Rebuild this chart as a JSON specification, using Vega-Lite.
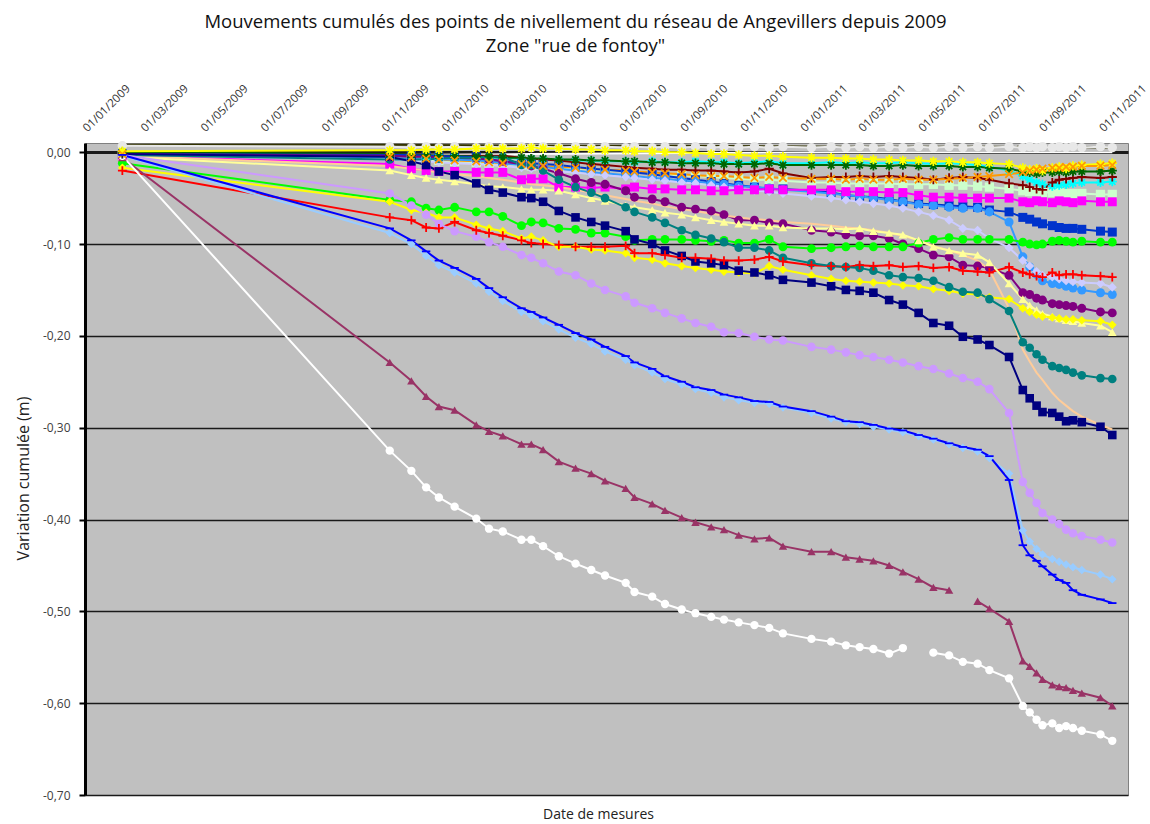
{
"$schema": "https://vega.github.io/schema/vega-lite/v6.json",
"width": 1043, "height": 652,
"autosize": {"type": "none"},
"padding": {"left": 85, "top": 143, "right": 22, "bottom": 29},
"background": "white",
"config": {
  "font": "Open Sans",
  "view": {"fill": "#C0C0C0", "stroke": "#808080", "strokeWidth": 1},
  "locale": {"number": {"decimal": ",", "thousands": " ", "grouping": [3], "currency": ["", " €"], "minus": "-"}}
},
"title": {"text": ["Mouvements cumulés des points de nivellement du réseau de Angevillers depuis 2009", "Zone \"rue de fontoy\""], "fontSize": 18.5, "fontWeight": "normal", "color": "#111111", "anchor": "middle", "frame": "group", "dx": -31, "offset": 27, "lineHeight": 24},
"data": {"values": [
{"d":"2009-02-08","s":"s25","v":0.008},{"d":"2009-11-07","s":"s25","v":0.008},{"d":"2010-03-31","s":"s25","v":0.007},{"d":"2010-08-31","s":"s25","v":0.007},{"d":"2011-02-14","s":"s25","v":0.006},{"d":"2011-07-10","s":"s25","v":0.006},{"d":"2011-11-12","s":"s25","v":0.005},
{"d":"2009-02-08","s":"s26","v":-0.002},{"d":"2009-11-07","s":"s26","v":-0.003},{"d":"2010-03-31","s":"s26","v":-0.002},{"d":"2010-08-31","s":"s26","v":-0.001},{"d":"2011-02-14","s":"s26","v":0.0},{"d":"2011-07-10","s":"s26","v":0.0},{"d":"2011-11-12","s":"s26","v":0.0},
{"d":"2009-02-08","s":"s24","v":0.007},{"d":"2009-11-07","s":"s24","v":0.006},{"d":"2009-11-29","s":"s24","v":0.005},{"d":"2009-12-14","s":"s24","v":0.006},{"d":"2009-12-27","s":"s24","v":0.005},{"d":"2010-01-12","s":"s24","v":0.006},{"d":"2010-02-03","s":"s24","v":0.005},{"d":"2010-02-16","s":"s24","v":0.006},{"d":"2010-03-02","s":"s24","v":0.005},{"d":"2010-03-21","s":"s24","v":0.006},{"d":"2010-03-31","s":"s24","v":0.005},{"d":"2010-04-12","s":"s24","v":0.006},{"d":"2010-04-28","s":"s24","v":0.005},{"d":"2010-05-15","s":"s24","v":0.006},{"d":"2010-05-31","s":"s24","v":0.005},{"d":"2010-06-14","s":"s24","v":0.006},{"d":"2010-07-05","s":"s24","v":0.005},{"d":"2010-07-14","s":"s24","v":0.006},{"d":"2010-08-01","s":"s24","v":0.005},{"d":"2010-08-14","s":"s24","v":0.006},{"d":"2010-08-31","s":"s24","v":0.005},{"d":"2010-09-14","s":"s24","v":0.006},{"d":"2010-09-30","s":"s24","v":0.005},{"d":"2010-10-13","s":"s24","v":0.006},{"d":"2010-10-28","s":"s24","v":0.005},{"d":"2010-11-13","s":"s24","v":0.006},{"d":"2010-11-28","s":"s24","v":0.005},{"d":"2010-12-12","s":"s24","v":0.006},{"d":"2011-01-10","s":"s24","v":0.005},{"d":"2011-01-30","s":"s24","v":0.006},{"d":"2011-02-14","s":"s24","v":0.005},{"d":"2011-02-28","s":"s24","v":0.006},{"d":"2011-03-14","s":"s24","v":0.005},{"d":"2011-03-30","s":"s24","v":0.006},{"d":"2011-04-13","s":"s24","v":0.005},{"d":"2011-04-29","s":"s24","v":0.006},{"d":"2011-05-14","s":"s24","v":0.005},{"d":"2011-05-30","s":"s24","v":0.006},{"d":"2011-06-13","s":"s24","v":0.005},{"d":"2011-06-28","s":"s24","v":0.006},{"d":"2011-07-10","s":"s24","v":0.005},{"d":"2011-07-30","s":"s24","v":0.006},{"d":"2011-08-13","s":"s24","v":0.005},{"d":"2011-08-20","s":"s24","v":0.006},{"d":"2011-08-27","s":"s24","v":0.005},{"d":"2011-09-02","s":"s24","v":0.006},{"d":"2011-09-12","s":"s24","v":0.005},{"d":"2011-09-19","s":"s24","v":0.006},{"d":"2011-09-26","s":"s24","v":0.005},{"d":"2011-10-03","s":"s24","v":0.006},{"d":"2011-10-12","s":"s24","v":0.005},{"d":"2011-10-31","s":"s24","v":0.006},{"d":"2011-11-12","s":"s24","v":0.005},
{"d":"2009-02-08","s":"s18","v":-0.002},{"d":"2009-11-07","s":"s18","v":-0.004},{"d":"2009-11-29","s":"s18","v":-0.004},{"d":"2009-12-14","s":"s18","v":-0.005},{"d":"2009-12-27","s":"s18","v":-0.005},{"d":"2010-01-12","s":"s18","v":-0.005},{"d":"2010-02-03","s":"s18","v":-0.006},{"d":"2010-02-16","s":"s18","v":-0.006},{"d":"2010-03-02","s":"s18","v":-0.006},{"d":"2010-03-21","s":"s18","v":-0.007},{"d":"2010-03-31","s":"s18","v":-0.007},{"d":"2010-04-12","s":"s18","v":-0.008},{"d":"2010-04-28","s":"s18","v":-0.008},{"d":"2010-05-15","s":"s18","v":-0.009},{"d":"2010-05-31","s":"s18","v":-0.009},{"d":"2010-06-14","s":"s18","v":-0.010},{"d":"2010-07-05","s":"s18","v":-0.010},{"d":"2010-07-14","s":"s18","v":-0.011},{"d":"2010-08-01","s":"s18","v":-0.010},{"d":"2010-08-14","s":"s18","v":-0.011},{"d":"2010-08-31","s":"s18","v":-0.011},{"d":"2010-09-14","s":"s18","v":-0.010},{"d":"2010-09-30","s":"s18","v":-0.011},{"d":"2010-10-13","s":"s18","v":-0.011},{"d":"2010-10-28","s":"s18","v":-0.012},{"d":"2010-11-13","s":"s18","v":-0.011},{"d":"2010-11-28","s":"s18","v":-0.010},{"d":"2010-12-12","s":"s18","v":-0.012},{"d":"2011-01-10","s":"s18","v":-0.012},{"d":"2011-01-30","s":"s18","v":-0.011},{"d":"2011-02-14","s":"s18","v":-0.012},{"d":"2011-02-28","s":"s18","v":-0.011},{"d":"2011-03-14","s":"s18","v":-0.012},{"d":"2011-03-30","s":"s18","v":-0.012},{"d":"2011-04-13","s":"s18","v":-0.011},{"d":"2011-04-29","s":"s18","v":-0.012},{"d":"2011-05-14","s":"s18","v":-0.013},{"d":"2011-05-30","s":"s18","v":-0.012},{"d":"2011-06-13","s":"s18","v":-0.013},{"d":"2011-06-28","s":"s18","v":-0.014},{"d":"2011-07-10","s":"s18","v":-0.016},{"d":"2011-07-30","s":"s18","v":-0.020},{"d":"2011-08-13","s":"s18","v":-0.026},{"d":"2011-08-20","s":"s18","v":-0.030},{"d":"2011-08-27","s":"s18","v":-0.033},{"d":"2011-09-02","s":"s18","v":-0.035},{"d":"2011-09-12","s":"s18","v":-0.037},{"d":"2011-09-19","s":"s18","v":-0.036},{"d":"2011-09-26","s":"s18","v":-0.035},{"d":"2011-10-03","s":"s18","v":-0.034},{"d":"2011-10-12","s":"s18","v":-0.033},{"d":"2011-10-31","s":"s18","v":-0.033},{"d":"2011-11-12","s":"s18","v":-0.032},
{"d":"2009-02-08","s":"s19","v":-0.002},{"d":"2009-11-07","s":"s19","v":-0.004},{"d":"2009-11-29","s":"s19","v":-0.004},{"d":"2009-12-14","s":"s19","v":-0.004},{"d":"2009-12-27","s":"s19","v":-0.004},{"d":"2010-01-12","s":"s19","v":-0.004},{"d":"2010-02-03","s":"s19","v":-0.004},{"d":"2010-02-16","s":"s19","v":-0.004},{"d":"2010-03-02","s":"s19","v":-0.004},{"d":"2010-03-21","s":"s19","v":-0.006},{"d":"2010-03-31","s":"s19","v":-0.007},{"d":"2010-04-12","s":"s19","v":-0.008},{"d":"2010-04-28","s":"s19","v":-0.009},{"d":"2010-05-15","s":"s19","v":-0.011},{"d":"2010-05-31","s":"s19","v":-0.013},{"d":"2010-06-14","s":"s19","v":-0.014},{"d":"2010-07-05","s":"s19","v":-0.016},{"d":"2010-07-14","s":"s19","v":-0.017},{"d":"2010-08-01","s":"s19","v":-0.018},{"d":"2010-08-14","s":"s19","v":-0.019},{"d":"2010-08-31","s":"s19","v":-0.019},{"d":"2010-09-14","s":"s19","v":-0.020},{"d":"2010-09-30","s":"s19","v":-0.020},{"d":"2010-10-13","s":"s19","v":-0.021},{"d":"2010-10-28","s":"s19","v":-0.022},{"d":"2010-11-13","s":"s19","v":-0.021},{"d":"2010-11-28","s":"s19","v":-0.018},{"d":"2010-12-12","s":"s19","v":-0.023},{"d":"2011-01-10","s":"s19","v":-0.028},{"d":"2011-01-30","s":"s19","v":-0.027},{"d":"2011-02-14","s":"s19","v":-0.027},{"d":"2011-02-28","s":"s19","v":-0.026},{"d":"2011-03-14","s":"s19","v":-0.027},{"d":"2011-03-30","s":"s19","v":-0.026},{"d":"2011-04-13","s":"s19","v":-0.027},{"d":"2011-04-29","s":"s19","v":-0.028},{"d":"2011-05-14","s":"s19","v":-0.030},{"d":"2011-05-30","s":"s19","v":-0.028},{"d":"2011-06-13","s":"s19","v":-0.027},{"d":"2011-06-28","s":"s19","v":-0.028},{"d":"2011-07-10","s":"s19","v":-0.030},{"d":"2011-07-30","s":"s19","v":-0.034},{"d":"2011-08-13","s":"s19","v":-0.036},{"d":"2011-08-20","s":"s19","v":-0.038},{"d":"2011-08-27","s":"s19","v":-0.040},{"d":"2011-09-02","s":"s19","v":-0.041},{"d":"2011-09-12","s":"s19","v":-0.033},{"d":"2011-09-19","s":"s19","v":-0.030},{"d":"2011-09-26","s":"s19","v":-0.029},{"d":"2011-10-03","s":"s19","v":-0.028},{"d":"2011-10-12","s":"s19","v":-0.027},{"d":"2011-10-31","s":"s19","v":-0.028},{"d":"2011-11-12","s":"s19","v":-0.027},
{"d":"2009-02-08","s":"s20","v":0.0},{"d":"2009-11-07","s":"s20","v":-0.002},{"d":"2009-11-29","s":"s20","v":-0.003},{"d":"2009-12-14","s":"s20","v":-0.003},{"d":"2009-12-27","s":"s20","v":-0.004},{"d":"2010-01-12","s":"s20","v":-0.004},{"d":"2010-02-03","s":"s20","v":-0.005},{"d":"2010-02-16","s":"s20","v":-0.005},{"d":"2010-03-02","s":"s20","v":-0.006},{"d":"2010-03-21","s":"s20","v":-0.006},{"d":"2010-03-31","s":"s20","v":-0.007},{"d":"2010-04-12","s":"s20","v":-0.007},{"d":"2010-04-28","s":"s20","v":-0.008},{"d":"2010-05-15","s":"s20","v":-0.008},{"d":"2010-05-31","s":"s20","v":-0.009},{"d":"2010-06-14","s":"s20","v":-0.009},{"d":"2010-07-05","s":"s20","v":-0.010},{"d":"2010-07-14","s":"s20","v":-0.010},{"d":"2010-08-01","s":"s20","v":-0.011},{"d":"2010-08-14","s":"s20","v":-0.011},{"d":"2010-08-31","s":"s20","v":-0.012},{"d":"2010-09-14","s":"s20","v":-0.012},{"d":"2010-09-30","s":"s20","v":-0.012},{"d":"2010-10-13","s":"s20","v":-0.013},{"d":"2010-10-28","s":"s20","v":-0.013},{"d":"2010-11-13","s":"s20","v":-0.013},{"d":"2010-11-28","s":"s20","v":-0.012},{"d":"2010-12-12","s":"s20","v":-0.014},{"d":"2011-01-10","s":"s20","v":-0.014},{"d":"2011-01-30","s":"s20","v":-0.014},{"d":"2011-02-14","s":"s20","v":-0.014},{"d":"2011-02-28","s":"s20","v":-0.014},{"d":"2011-03-14","s":"s20","v":-0.015},{"d":"2011-03-30","s":"s20","v":-0.015},{"d":"2011-04-13","s":"s20","v":-0.014},{"d":"2011-04-29","s":"s20","v":-0.015},{"d":"2011-05-14","s":"s20","v":-0.015},{"d":"2011-05-30","s":"s20","v":-0.015},{"d":"2011-06-13","s":"s20","v":-0.016},{"d":"2011-06-28","s":"s20","v":-0.016},{"d":"2011-07-10","s":"s20","v":-0.017},{"d":"2011-07-30","s":"s20","v":-0.018},{"d":"2011-08-13","s":"s20","v":-0.021},{"d":"2011-08-20","s":"s20","v":-0.022},{"d":"2011-08-27","s":"s20","v":-0.023},{"d":"2011-09-02","s":"s20","v":-0.022},{"d":"2011-09-12","s":"s20","v":-0.022},{"d":"2011-09-19","s":"s20","v":-0.021},{"d":"2011-09-26","s":"s20","v":-0.022},{"d":"2011-10-03","s":"s20","v":-0.021},{"d":"2011-10-12","s":"s20","v":-0.021},{"d":"2011-10-31","s":"s20","v":-0.021},{"d":"2011-11-12","s":"s20","v":-0.020},
{"d":"2009-02-08","s":"s21","v":-0.002},{"d":"2009-11-07","s":"s21","v":-0.006},{"d":"2009-11-29","s":"s21","v":-0.007},{"d":"2009-12-14","s":"s21","v":-0.008},{"d":"2009-12-27","s":"s21","v":-0.009},{"d":"2010-01-12","s":"s21","v":-0.010},{"d":"2010-02-03","s":"s21","v":-0.011},{"d":"2010-02-16","s":"s21","v":-0.012},{"d":"2010-03-02","s":"s21","v":-0.013},{"d":"2010-03-21","s":"s21","v":-0.014},{"d":"2010-03-31","s":"s21","v":-0.015},{"d":"2010-04-12","s":"s21","v":-0.016},{"d":"2010-04-28","s":"s21","v":-0.017},{"d":"2010-05-15","s":"s21","v":-0.018},{"d":"2010-05-31","s":"s21","v":-0.019},{"d":"2010-06-14","s":"s21","v":-0.020},{"d":"2010-07-05","s":"s21","v":-0.021},{"d":"2010-07-14","s":"s21","v":-0.022},{"d":"2010-08-01","s":"s21","v":-0.023},{"d":"2010-08-14","s":"s21","v":-0.024},{"d":"2010-08-31","s":"s21","v":-0.025},{"d":"2010-09-14","s":"s21","v":-0.026},{"d":"2010-09-30","s":"s21","v":-0.027},{"d":"2010-10-13","s":"s21","v":-0.028},{"d":"2010-10-28","s":"s21","v":-0.029},{"d":"2010-11-13","s":"s21","v":-0.030},{"d":"2010-11-28","s":"s21","v":-0.030},{"d":"2010-12-12","s":"s21","v":-0.031},{"d":"2011-01-10","s":"s21","v":-0.033},{"d":"2011-01-30","s":"s21","v":-0.033},{"d":"2011-02-14","s":"s21","v":-0.034},{"d":"2011-02-28","s":"s21","v":-0.034},{"d":"2011-03-14","s":"s21","v":-0.034},{"d":"2011-03-30","s":"s21","v":-0.034},{"d":"2011-04-13","s":"s21","v":-0.035},{"d":"2011-04-29","s":"s21","v":-0.035},{"d":"2011-05-14","s":"s21","v":-0.035},{"d":"2011-05-30","s":"s21","v":-0.036},{"d":"2011-06-13","s":"s21","v":-0.036},{"d":"2011-06-28","s":"s21","v":-0.037},{"d":"2011-07-10","s":"s21","v":-0.038},{"d":"2011-07-30","s":"s21","v":-0.040},{"d":"2011-08-13","s":"s21","v":-0.042},{"d":"2011-08-20","s":"s21","v":-0.043},{"d":"2011-08-27","s":"s21","v":-0.043},{"d":"2011-09-02","s":"s21","v":-0.044},{"d":"2011-09-12","s":"s21","v":-0.044},{"d":"2011-09-19","s":"s21","v":-0.044},{"d":"2011-09-26","s":"s21","v":-0.045},{"d":"2011-10-03","s":"s21","v":-0.045},{"d":"2011-10-12","s":"s21","v":-0.045},{"d":"2011-10-31","s":"s21","v":-0.046},{"d":"2011-11-12","s":"s21","v":-0.046},
{"d":"2009-02-08","s":"s22","v":0.001},{"d":"2009-11-07","s":"s22","v":0.002},{"d":"2009-11-29","s":"s22","v":0.002},{"d":"2009-12-14","s":"s22","v":0.003},{"d":"2009-12-27","s":"s22","v":0.003},{"d":"2010-01-12","s":"s22","v":0.003},{"d":"2010-02-03","s":"s22","v":0.004},{"d":"2010-02-16","s":"s22","v":0.004},{"d":"2010-03-02","s":"s22","v":0.004},{"d":"2010-03-21","s":"s22","v":0.004},{"d":"2010-03-31","s":"s22","v":0.005},{"d":"2010-04-12","s":"s22","v":0.004},{"d":"2010-04-28","s":"s22","v":0.004},{"d":"2010-05-15","s":"s22","v":0.003},{"d":"2010-05-31","s":"s22","v":0.003},{"d":"2010-06-14","s":"s22","v":0.002},{"d":"2010-07-05","s":"s22","v":0.002},{"d":"2010-07-14","s":"s22","v":0.001},{"d":"2010-08-01","s":"s22","v":0.001},{"d":"2010-08-14","s":"s22","v":0.0},{"d":"2010-08-31","s":"s22","v":0.0},{"d":"2010-09-14","s":"s22","v":-0.001},{"d":"2010-09-30","s":"s22","v":-0.002},{"d":"2010-10-13","s":"s22","v":-0.002},{"d":"2010-10-28","s":"s22","v":-0.003},{"d":"2010-11-13","s":"s22","v":-0.004},{"d":"2010-11-28","s":"s22","v":-0.004},{"d":"2010-12-12","s":"s22","v":-0.005},{"d":"2011-01-10","s":"s22","v":-0.006},{"d":"2011-01-30","s":"s22","v":-0.006},{"d":"2011-02-14","s":"s22","v":-0.007},{"d":"2011-02-28","s":"s22","v":-0.007},{"d":"2011-03-14","s":"s22","v":-0.008},{"d":"2011-03-30","s":"s22","v":-0.008},{"d":"2011-04-13","s":"s22","v":-0.009},{"d":"2011-04-29","s":"s22","v":-0.009},{"d":"2011-05-14","s":"s22","v":-0.010},{"d":"2011-05-30","s":"s22","v":-0.010},{"d":"2011-06-13","s":"s22","v":-0.011},{"d":"2011-06-28","s":"s22","v":-0.011},{"d":"2011-07-10","s":"s22","v":-0.012},{"d":"2011-07-30","s":"s22","v":-0.013},{"d":"2011-08-13","s":"s22","v":-0.017},{"d":"2011-08-20","s":"s22","v":-0.019},{"d":"2011-08-27","s":"s22","v":-0.018},{"d":"2011-09-02","s":"s22","v":-0.020},{"d":"2011-09-12","s":"s22","v":-0.017},{"d":"2011-09-19","s":"s22","v":-0.016},{"d":"2011-09-26","s":"s22","v":-0.018},{"d":"2011-10-03","s":"s22","v":-0.015},{"d":"2011-10-12","s":"s22","v":-0.014},{"d":"2011-10-31","s":"s22","v":-0.013},{"d":"2011-11-12","s":"s22","v":-0.012},
{"d":"2009-02-08","s":"s23","v":-0.002},{"d":"2009-11-07","s":"s23","v":-0.005},{"d":"2009-11-29","s":"s23","v":-0.006},{"d":"2009-12-14","s":"s23","v":-0.007},{"d":"2009-12-27","s":"s23","v":-0.008},{"d":"2010-01-12","s":"s23","v":-0.009},{"d":"2010-02-03","s":"s23","v":-0.010},{"d":"2010-02-16","s":"s23","v":-0.011},{"d":"2010-03-02","s":"s23","v":-0.012},{"d":"2010-03-21","s":"s23","v":-0.013},{"d":"2010-03-31","s":"s23","v":-0.014},{"d":"2010-04-12","s":"s23","v":-0.015},{"d":"2010-04-28","s":"s23","v":-0.016},{"d":"2010-05-15","s":"s23","v":-0.017},{"d":"2010-05-31","s":"s23","v":-0.018},{"d":"2010-06-14","s":"s23","v":-0.019},{"d":"2010-07-05","s":"s23","v":-0.020},{"d":"2010-07-14","s":"s23","v":-0.021},{"d":"2010-08-01","s":"s23","v":-0.022},{"d":"2010-08-14","s":"s23","v":-0.023},{"d":"2010-08-31","s":"s23","v":-0.024},{"d":"2010-09-14","s":"s23","v":-0.025},{"d":"2010-09-30","s":"s23","v":-0.026},{"d":"2010-10-13","s":"s23","v":-0.026},{"d":"2010-10-28","s":"s23","v":-0.027},{"d":"2010-11-13","s":"s23","v":-0.028},{"d":"2010-11-28","s":"s23","v":-0.027},{"d":"2010-12-12","s":"s23","v":-0.028},{"d":"2011-01-10","s":"s23","v":-0.029},{"d":"2011-01-30","s":"s23","v":-0.029},{"d":"2011-02-14","s":"s23","v":-0.030},{"d":"2011-02-28","s":"s23","v":-0.029},{"d":"2011-03-14","s":"s23","v":-0.030},{"d":"2011-03-30","s":"s23","v":-0.030},{"d":"2011-04-13","s":"s23","v":-0.029},{"d":"2011-04-29","s":"s23","v":-0.030},{"d":"2011-05-14","s":"s23","v":-0.030},{"d":"2011-05-30","s":"s23","v":-0.029},{"d":"2011-06-13","s":"s23","v":-0.028},{"d":"2011-06-28","s":"s23","v":-0.027},{"d":"2011-07-10","s":"s23","v":-0.026},{"d":"2011-07-30","s":"s23","v":-0.024},{"d":"2011-08-13","s":"s23","v":-0.022},{"d":"2011-08-20","s":"s23","v":-0.020},{"d":"2011-08-27","s":"s23","v":-0.019},{"d":"2011-09-02","s":"s23","v":-0.018},{"d":"2011-09-12","s":"s23","v":-0.017},{"d":"2011-09-19","s":"s23","v":-0.017},{"d":"2011-09-26","s":"s23","v":-0.016},{"d":"2011-10-03","s":"s23","v":-0.016},{"d":"2011-10-12","s":"s23","v":-0.015},{"d":"2011-10-31","s":"s23","v":-0.015},{"d":"2011-11-12","s":"s23","v":-0.014},
{"d":"2009-02-08","s":"s15","v":-0.002},{"d":"2009-11-07","s":"s15","v":-0.003},{"d":"2009-11-29","s":"s15","v":-0.003},{"d":"2009-12-14","s":"s15","v":-0.004},{"d":"2009-12-27","s":"s15","v":-0.004},{"d":"2010-01-12","s":"s15","v":-0.005},{"d":"2010-02-03","s":"s15","v":-0.005},{"d":"2010-02-16","s":"s15","v":-0.008},{"d":"2010-03-02","s":"s15","v":-0.010},{"d":"2010-03-21","s":"s15","v":-0.011},{"d":"2010-03-31","s":"s15","v":-0.012},{"d":"2010-04-12","s":"s15","v":-0.013},{"d":"2010-04-28","s":"s15","v":-0.014},{"d":"2010-05-15","s":"s15","v":-0.016},{"d":"2010-05-31","s":"s15","v":-0.018},{"d":"2010-06-14","s":"s15","v":-0.019},{"d":"2010-07-05","s":"s15","v":-0.021},{"d":"2010-07-14","s":"s15","v":-0.022},{"d":"2010-08-01","s":"s15","v":-0.024},{"d":"2010-08-14","s":"s15","v":-0.026},{"d":"2010-08-31","s":"s15","v":-0.028},{"d":"2010-09-14","s":"s15","v":-0.030},{"d":"2010-09-30","s":"s15","v":-0.032},{"d":"2010-10-13","s":"s15","v":-0.034},{"d":"2010-10-28","s":"s15","v":-0.036},{"d":"2010-11-13","s":"s15","v":-0.038},{"d":"2010-11-28","s":"s15","v":-0.040},{"d":"2010-12-12","s":"s15","v":-0.040},{"d":"2011-01-10","s":"s15","v":-0.042},{"d":"2011-01-30","s":"s15","v":-0.044},{"d":"2011-02-14","s":"s15","v":-0.047},{"d":"2011-02-28","s":"s15","v":-0.048},{"d":"2011-03-14","s":"s15","v":-0.049},{"d":"2011-03-30","s":"s15","v":-0.051},{"d":"2011-04-13","s":"s15","v":-0.054},{"d":"2011-04-29","s":"s15","v":-0.056},{"d":"2011-05-14","s":"s15","v":-0.057},{"d":"2011-05-30","s":"s15","v":-0.058},{"d":"2011-06-13","s":"s15","v":-0.059},{"d":"2011-06-28","s":"s15","v":-0.060},{"d":"2011-07-10","s":"s15","v":-0.063},{"d":"2011-07-30","s":"s15","v":-0.065},{"d":"2011-08-13","s":"s15","v":-0.071},{"d":"2011-08-20","s":"s15","v":-0.073},{"d":"2011-08-27","s":"s15","v":-0.076},{"d":"2011-09-02","s":"s15","v":-0.078},{"d":"2011-09-12","s":"s15","v":-0.080},{"d":"2011-09-19","s":"s15","v":-0.082},{"d":"2011-09-26","s":"s15","v":-0.083},{"d":"2011-10-03","s":"s15","v":-0.083},{"d":"2011-10-12","s":"s15","v":-0.084},{"d":"2011-10-31","s":"s15","v":-0.086},{"d":"2011-11-12","s":"s15","v":-0.087},
{"d":"2009-02-08","s":"s16","v":-0.003},{"d":"2009-11-07","s":"s16","v":-0.006},{"d":"2009-11-29","s":"s16","v":-0.007},{"d":"2009-12-14","s":"s16","v":-0.007},{"d":"2009-12-27","s":"s16","v":-0.008},{"d":"2010-01-12","s":"s16","v":-0.008},{"d":"2010-02-03","s":"s16","v":-0.009},{"d":"2010-02-16","s":"s16","v":-0.010},{"d":"2010-03-02","s":"s16","v":-0.012},{"d":"2010-03-21","s":"s16","v":-0.014},{"d":"2010-03-31","s":"s16","v":-0.015},{"d":"2010-04-12","s":"s16","v":-0.016},{"d":"2010-04-28","s":"s16","v":-0.018},{"d":"2010-05-15","s":"s16","v":-0.020},{"d":"2010-05-31","s":"s16","v":-0.022},{"d":"2010-06-14","s":"s16","v":-0.023},{"d":"2010-07-05","s":"s16","v":-0.025},{"d":"2010-07-14","s":"s16","v":-0.026},{"d":"2010-08-01","s":"s16","v":-0.028},{"d":"2010-08-14","s":"s16","v":-0.029},{"d":"2010-08-31","s":"s16","v":-0.031},{"d":"2010-09-14","s":"s16","v":-0.032},{"d":"2010-09-30","s":"s16","v":-0.034},{"d":"2010-10-13","s":"s16","v":-0.035},{"d":"2010-10-28","s":"s16","v":-0.037},{"d":"2010-11-13","s":"s16","v":-0.038},{"d":"2010-11-28","s":"s16","v":-0.039},{"d":"2010-12-12","s":"s16","v":-0.041},{"d":"2011-01-10","s":"s16","v":-0.043},{"d":"2011-01-30","s":"s16","v":-0.045},{"d":"2011-02-14","s":"s16","v":-0.047},{"d":"2011-02-28","s":"s16","v":-0.048},{"d":"2011-03-14","s":"s16","v":-0.050},{"d":"2011-03-30","s":"s16","v":-0.052},{"d":"2011-04-13","s":"s16","v":-0.054},{"d":"2011-04-29","s":"s16","v":-0.057},{"d":"2011-05-14","s":"s16","v":-0.058},{"d":"2011-05-30","s":"s16","v":-0.060},{"d":"2011-06-13","s":"s16","v":-0.061},{"d":"2011-06-28","s":"s16","v":-0.061},{"d":"2011-07-10","s":"s16","v":-0.065},{"d":"2011-07-30","s":"s16","v":-0.076},{"d":"2011-08-13","s":"s16","v":-0.114},{"d":"2011-08-20","s":"s16","v":-0.125},{"d":"2011-08-27","s":"s16","v":-0.133},{"d":"2011-09-02","s":"s16","v":-0.140},{"d":"2011-09-12","s":"s16","v":-0.143},{"d":"2011-09-19","s":"s16","v":-0.144},{"d":"2011-09-26","s":"s16","v":-0.146},{"d":"2011-10-03","s":"s16","v":-0.148},{"d":"2011-10-12","s":"s16","v":-0.150},{"d":"2011-10-31","s":"s16","v":-0.153},{"d":"2011-11-12","s":"s16","v":-0.155},
{"d":"2009-02-08","s":"s17","v":-0.003},{"d":"2009-11-07","s":"s17","v":-0.008},{"d":"2009-11-29","s":"s17","v":-0.009},{"d":"2009-12-14","s":"s17","v":-0.010},{"d":"2009-12-27","s":"s17","v":-0.011},{"d":"2010-01-12","s":"s17","v":-0.012},{"d":"2010-02-03","s":"s17","v":-0.013},{"d":"2010-02-16","s":"s17","v":-0.014},{"d":"2010-03-02","s":"s17","v":-0.015},{"d":"2010-03-21","s":"s17","v":-0.017},{"d":"2010-03-31","s":"s17","v":-0.018},{"d":"2010-04-12","s":"s17","v":-0.019},{"d":"2010-04-28","s":"s17","v":-0.021},{"d":"2010-05-15","s":"s17","v":-0.022},{"d":"2010-05-31","s":"s17","v":-0.024},{"d":"2010-06-14","s":"s17","v":-0.025},{"d":"2010-07-05","s":"s17","v":-0.027},{"d":"2010-07-14","s":"s17","v":-0.028},{"d":"2010-08-01","s":"s17","v":-0.030},{"d":"2010-08-14","s":"s17","v":-0.031},{"d":"2010-08-31","s":"s17","v":-0.033},{"d":"2010-09-14","s":"s17","v":-0.034},{"d":"2010-09-30","s":"s17","v":-0.036},{"d":"2010-10-13","s":"s17","v":-0.038},{"d":"2010-10-28","s":"s17","v":-0.040},{"d":"2010-11-13","s":"s17","v":-0.042},{"d":"2010-11-28","s":"s17","v":-0.043},{"d":"2010-12-12","s":"s17","v":-0.045},{"d":"2011-01-10","s":"s17","v":-0.048},{"d":"2011-01-30","s":"s17","v":-0.050},{"d":"2011-02-14","s":"s17","v":-0.052},{"d":"2011-02-28","s":"s17","v":-0.054},{"d":"2011-03-14","s":"s17","v":-0.056},{"d":"2011-03-30","s":"s17","v":-0.058},{"d":"2011-04-13","s":"s17","v":-0.061},{"d":"2011-04-29","s":"s17","v":-0.065},{"d":"2011-05-14","s":"s17","v":-0.069},{"d":"2011-05-30","s":"s17","v":-0.074},{"d":"2011-06-13","s":"s17","v":-0.083},{"d":"2011-06-28","s":"s17","v":-0.085},{"d":"2011-07-10","s":"s17","v":-0.094},{"d":"2011-07-30","s":"s17","v":-0.104},{"d":"2011-08-13","s":"s17","v":-0.118},{"d":"2011-08-20","s":"s17","v":-0.124},{"d":"2011-08-27","s":"s17","v":-0.130},{"d":"2011-09-02","s":"s17","v":-0.134},{"d":"2011-09-12","s":"s17","v":-0.136},{"d":"2011-09-19","s":"s17","v":-0.138},{"d":"2011-09-26","s":"s17","v":-0.140},{"d":"2011-10-03","s":"s17","v":-0.141},{"d":"2011-10-12","s":"s17","v":-0.142},{"d":"2011-10-31","s":"s17","v":-0.143},{"d":"2011-11-12","s":"s17","v":-0.147},
{"d":"2009-02-08","s":"s14","v":-0.004},{"d":"2009-11-07","s":"s14","v":-0.013},{"d":"2009-11-29","s":"s14","v":-0.018},{"d":"2009-12-14","s":"s14","v":-0.020},{"d":"2009-12-27","s":"s14","v":-0.021},{"d":"2010-01-12","s":"s14","v":-0.021},{"d":"2010-02-03","s":"s14","v":-0.022},{"d":"2010-02-16","s":"s14","v":-0.022},{"d":"2010-03-02","s":"s14","v":-0.022},{"d":"2010-03-21","s":"s14","v":-0.030},{"d":"2010-03-31","s":"s14","v":-0.029},{"d":"2010-04-12","s":"s14","v":-0.029},{"d":"2010-04-28","s":"s14","v":-0.038},{"d":"2010-05-15","s":"s14","v":-0.038},{"d":"2010-05-31","s":"s14","v":-0.039},{"d":"2010-06-14","s":"s14","v":-0.038},{"d":"2010-07-05","s":"s14","v":-0.040},{"d":"2010-07-14","s":"s14","v":-0.038},{"d":"2010-08-01","s":"s14","v":-0.040},{"d":"2010-08-14","s":"s14","v":-0.040},{"d":"2010-08-31","s":"s14","v":-0.041},{"d":"2010-09-14","s":"s14","v":-0.041},{"d":"2010-09-30","s":"s14","v":-0.042},{"d":"2010-10-13","s":"s14","v":-0.042},{"d":"2010-10-28","s":"s14","v":-0.041},{"d":"2010-11-13","s":"s14","v":-0.041},{"d":"2010-11-28","s":"s14","v":-0.040},{"d":"2010-12-12","s":"s14","v":-0.041},{"d":"2011-01-10","s":"s14","v":-0.041},{"d":"2011-01-30","s":"s14","v":-0.041},{"d":"2011-02-14","s":"s14","v":-0.043},{"d":"2011-02-28","s":"s14","v":-0.043},{"d":"2011-03-14","s":"s14","v":-0.043},{"d":"2011-03-30","s":"s14","v":-0.044},{"d":"2011-04-13","s":"s14","v":-0.044},{"d":"2011-04-29","s":"s14","v":-0.047},{"d":"2011-05-14","s":"s14","v":-0.049},{"d":"2011-05-30","s":"s14","v":-0.049},{"d":"2011-06-13","s":"s14","v":-0.050},{"d":"2011-06-28","s":"s14","v":-0.050},{"d":"2011-07-10","s":"s14","v":-0.050},{"d":"2011-07-30","s":"s14","v":-0.050},{"d":"2011-08-13","s":"s14","v":-0.054},{"d":"2011-08-20","s":"s14","v":-0.055},{"d":"2011-08-27","s":"s14","v":-0.053},{"d":"2011-09-02","s":"s14","v":-0.054},{"d":"2011-09-12","s":"s14","v":-0.055},{"d":"2011-09-19","s":"s14","v":-0.053},{"d":"2011-09-26","s":"s14","v":-0.054},{"d":"2011-10-03","s":"s14","v":-0.055},{"d":"2011-10-12","s":"s14","v":-0.053},{"d":"2011-10-31","s":"s14","v":-0.054},{"d":"2011-11-12","s":"s14","v":-0.054},
{"d":"2009-02-08","s":"s13","v":-0.002},{"d":"2009-11-07","s":"s13","v":-0.004},{"d":"2009-11-29","s":"s13","v":-0.005},{"d":"2009-12-14","s":"s13","v":-0.005},{"d":"2009-12-27","s":"s13","v":-0.006},{"d":"2010-01-12","s":"s13","v":-0.006},{"d":"2010-02-03","s":"s13","v":-0.007},{"d":"2010-02-16","s":"s13","v":-0.008},{"d":"2010-03-02","s":"s13","v":-0.010},{"d":"2010-03-21","s":"s13","v":-0.013},{"d":"2010-03-31","s":"s13","v":-0.015},{"d":"2010-04-12","s":"s13","v":-0.018},{"d":"2010-04-28","s":"s13","v":-0.023},{"d":"2010-05-15","s":"s13","v":-0.029},{"d":"2010-05-31","s":"s13","v":-0.033},{"d":"2010-06-14","s":"s13","v":-0.035},{"d":"2010-07-05","s":"s13","v":-0.042},{"d":"2010-07-14","s":"s13","v":-0.049},{"d":"2010-08-01","s":"s13","v":-0.051},{"d":"2010-08-14","s":"s13","v":-0.054},{"d":"2010-08-31","s":"s13","v":-0.060},{"d":"2010-09-14","s":"s13","v":-0.062},{"d":"2010-09-30","s":"s13","v":-0.064},{"d":"2010-10-13","s":"s13","v":-0.068},{"d":"2010-10-28","s":"s13","v":-0.074},{"d":"2010-11-13","s":"s13","v":-0.074},{"d":"2010-11-28","s":"s13","v":-0.077},{"d":"2010-12-12","s":"s13","v":-0.078},{"d":"2011-01-10","s":"s13","v":-0.085},{"d":"2011-01-30","s":"s13","v":-0.087},{"d":"2011-02-14","s":"s13","v":-0.090},{"d":"2011-02-28","s":"s13","v":-0.091},{"d":"2011-03-14","s":"s13","v":-0.091},{"d":"2011-03-30","s":"s13","v":-0.094},{"d":"2011-04-13","s":"s13","v":-0.100},{"d":"2011-04-29","s":"s13","v":-0.105},{"d":"2011-05-14","s":"s13","v":-0.112},{"d":"2011-05-30","s":"s13","v":-0.114},{"d":"2011-06-13","s":"s13","v":-0.123},{"d":"2011-06-28","s":"s13","v":-0.124},{"d":"2011-07-10","s":"s13","v":-0.126},{"d":"2011-07-30","s":"s13","v":-0.134},{"d":"2011-08-13","s":"s13","v":-0.153},{"d":"2011-08-20","s":"s13","v":-0.155},{"d":"2011-08-27","s":"s13","v":-0.159},{"d":"2011-09-02","s":"s13","v":-0.161},{"d":"2011-09-12","s":"s13","v":-0.165},{"d":"2011-09-19","s":"s13","v":-0.166},{"d":"2011-09-26","s":"s13","v":-0.167},{"d":"2011-10-03","s":"s13","v":-0.168},{"d":"2011-10-12","s":"s13","v":-0.170},{"d":"2011-10-31","s":"s13","v":-0.174},{"d":"2011-11-12","s":"s13","v":-0.175},
{"d":"2009-02-08","s":"s12","v":-0.012},{"d":"2009-11-07","s":"s12","v":-0.052},{"d":"2009-11-29","s":"s12","v":-0.054},{"d":"2009-12-14","s":"s12","v":-0.061},{"d":"2009-12-27","s":"s12","v":-0.063},{"d":"2010-01-12","s":"s12","v":-0.060},{"d":"2010-02-03","s":"s12","v":-0.065},{"d":"2010-02-16","s":"s12","v":-0.065},{"d":"2010-03-02","s":"s12","v":-0.070},{"d":"2010-03-21","s":"s12","v":-0.080},{"d":"2010-03-31","s":"s12","v":-0.076},{"d":"2010-04-12","s":"s12","v":-0.077},{"d":"2010-04-28","s":"s12","v":-0.083},{"d":"2010-05-15","s":"s12","v":-0.084},{"d":"2010-05-31","s":"s12","v":-0.088},{"d":"2010-06-14","s":"s12","v":-0.088},{"d":"2010-07-05","s":"s12","v":-0.092},{"d":"2010-07-14","s":"s12","v":-0.096},{"d":"2010-08-01","s":"s12","v":-0.095},{"d":"2010-08-14","s":"s12","v":-0.095},{"d":"2010-08-31","s":"s12","v":-0.095},{"d":"2010-09-14","s":"s12","v":-0.096},{"d":"2010-09-30","s":"s12","v":-0.097},{"d":"2010-10-13","s":"s12","v":-0.096},{"d":"2010-10-28","s":"s12","v":-0.099},{"d":"2010-11-13","s":"s12","v":-0.099},{"d":"2010-11-28","s":"s12","v":-0.095},{"d":"2010-12-12","s":"s12","v":-0.103},{"d":"2011-01-10","s":"s12","v":-0.105},{"d":"2011-01-30","s":"s12","v":-0.104},{"d":"2011-02-14","s":"s12","v":-0.103},{"d":"2011-02-28","s":"s12","v":-0.102},{"d":"2011-03-14","s":"s12","v":-0.103},{"d":"2011-03-30","s":"s12","v":-0.103},{"d":"2011-04-13","s":"s12","v":-0.103},{"d":"2011-04-29","s":"s12","v":-0.099},{"d":"2011-05-14","s":"s12","v":-0.095},{"d":"2011-05-30","s":"s12","v":-0.093},{"d":"2011-06-13","s":"s12","v":-0.095},{"d":"2011-06-28","s":"s12","v":-0.095},{"d":"2011-07-10","s":"s12","v":-0.095},{"d":"2011-07-30","s":"s12","v":-0.095},{"d":"2011-08-13","s":"s12","v":-0.098},{"d":"2011-08-20","s":"s12","v":-0.100},{"d":"2011-08-27","s":"s12","v":-0.101},{"d":"2011-09-02","s":"s12","v":-0.100},{"d":"2011-09-12","s":"s12","v":-0.097},{"d":"2011-09-19","s":"s12","v":-0.096},{"d":"2011-09-26","s":"s12","v":-0.097},{"d":"2011-10-03","s":"s12","v":-0.098},{"d":"2011-10-12","s":"s12","v":-0.097},{"d":"2011-10-31","s":"s12","v":-0.098},{"d":"2011-11-12","s":"s12","v":-0.098},
{"d":"2009-02-08","s":"s11","v":-0.020},{"d":"2009-11-07","s":"s11","v":-0.071},{"d":"2009-11-29","s":"s11","v":-0.074},{"d":"2009-12-14","s":"s11","v":-0.082},{"d":"2009-12-27","s":"s11","v":-0.083},{"d":"2010-01-12","s":"s11","v":-0.076},{"d":"2010-02-03","s":"s11","v":-0.085},{"d":"2010-02-16","s":"s11","v":-0.088},{"d":"2010-03-02","s":"s11","v":-0.091},{"d":"2010-03-21","s":"s11","v":-0.096},{"d":"2010-03-31","s":"s11","v":-0.099},{"d":"2010-04-12","s":"s11","v":-0.100},{"d":"2010-04-28","s":"s11","v":-0.101},{"d":"2010-05-15","s":"s11","v":-0.103},{"d":"2010-05-31","s":"s11","v":-0.103},{"d":"2010-06-14","s":"s11","v":-0.103},{"d":"2010-07-05","s":"s11","v":-0.102},{"d":"2010-07-14","s":"s11","v":-0.110},{"d":"2010-08-01","s":"s11","v":-0.110},{"d":"2010-08-14","s":"s11","v":-0.112},{"d":"2010-08-31","s":"s11","v":-0.115},{"d":"2010-09-14","s":"s11","v":-0.115},{"d":"2010-09-30","s":"s11","v":-0.116},{"d":"2010-10-13","s":"s11","v":-0.118},{"d":"2010-10-28","s":"s11","v":-0.118},{"d":"2010-11-13","s":"s11","v":-0.117},{"d":"2010-11-28","s":"s11","v":-0.114},{"d":"2010-12-12","s":"s11","v":-0.119},{"d":"2011-01-10","s":"s11","v":-0.123},{"d":"2011-01-30","s":"s11","v":-0.124},{"d":"2011-02-14","s":"s11","v":-0.125},{"d":"2011-02-28","s":"s11","v":-0.123},{"d":"2011-03-14","s":"s11","v":-0.124},{"d":"2011-03-30","s":"s11","v":-0.123},{"d":"2011-04-13","s":"s11","v":-0.125},{"d":"2011-04-29","s":"s11","v":-0.124},{"d":"2011-05-14","s":"s11","v":-0.126},{"d":"2011-05-30","s":"s11","v":-0.125},{"d":"2011-06-13","s":"s11","v":-0.129},{"d":"2011-06-28","s":"s11","v":-0.130},{"d":"2011-07-10","s":"s11","v":-0.131},{"d":"2011-07-30","s":"s11","v":-0.125},{"d":"2011-08-13","s":"s11","v":-0.131},{"d":"2011-08-20","s":"s11","v":-0.133},{"d":"2011-08-27","s":"s11","v":-0.135},{"d":"2011-09-02","s":"s11","v":-0.136},{"d":"2011-09-12","s":"s11","v":-0.131},{"d":"2011-09-19","s":"s11","v":-0.134},{"d":"2011-09-26","s":"s11","v":-0.133},{"d":"2011-10-03","s":"s11","v":-0.133},{"d":"2011-10-12","s":"s11","v":-0.134},{"d":"2011-10-31","s":"s11","v":-0.135},{"d":"2011-11-12","s":"s11","v":-0.136},
{"d":"2009-02-08","s":"s10","v":-0.004},{"d":"2009-11-07","s":"s10","v":-0.015},{"d":"2009-11-29","s":"s10","v":-0.018},{"d":"2009-12-14","s":"s10","v":-0.020},{"d":"2009-12-27","s":"s10","v":-0.022},{"d":"2010-01-12","s":"s10","v":-0.024},{"d":"2010-02-03","s":"s10","v":-0.026},{"d":"2010-02-16","s":"s10","v":-0.028},{"d":"2010-03-02","s":"s10","v":-0.030},{"d":"2010-03-21","s":"s10","v":-0.033},{"d":"2010-03-31","s":"s10","v":-0.035},{"d":"2010-04-12","s":"s10","v":-0.036},{"d":"2010-04-28","s":"s10","v":-0.038},{"d":"2010-05-15","s":"s10","v":-0.041},{"d":"2010-05-31","s":"s10","v":-0.044},{"d":"2010-06-14","s":"s10","v":-0.047},{"d":"2010-07-05","s":"s10","v":-0.051},{"d":"2010-07-14","s":"s10","v":-0.053},{"d":"2010-08-01","s":"s10","v":-0.056},{"d":"2010-08-14","s":"s10","v":-0.059},{"d":"2010-08-31","s":"s10","v":-0.062},{"d":"2010-09-14","s":"s10","v":-0.064},{"d":"2010-09-30","s":"s10","v":-0.067},{"d":"2010-10-13","s":"s10","v":-0.069},{"d":"2010-10-28","s":"s10","v":-0.071},{"d":"2010-11-13","s":"s10","v":-0.073},{"d":"2010-11-28","s":"s10","v":-0.074},{"d":"2010-12-12","s":"s10","v":-0.076},{"d":"2011-01-10","s":"s10","v":-0.078},{"d":"2011-01-30","s":"s10","v":-0.080},{"d":"2011-02-14","s":"s10","v":-0.082},{"d":"2011-02-28","s":"s10","v":-0.083},{"d":"2011-03-14","s":"s10","v":-0.085},{"d":"2011-03-30","s":"s10","v":-0.088},{"d":"2011-04-13","s":"s10","v":-0.091},{"d":"2011-04-29","s":"s10","v":-0.096},{"d":"2011-05-14","s":"s10","v":-0.102},{"d":"2011-05-30","s":"s10","v":-0.107},{"d":"2011-06-13","s":"s10","v":-0.112},{"d":"2011-06-28","s":"s10","v":-0.118},{"d":"2011-07-10","s":"s10","v":-0.128},{"d":"2011-07-30","s":"s10","v":-0.170},{"d":"2011-08-13","s":"s10","v":-0.215},{"d":"2011-08-20","s":"s10","v":-0.228},{"d":"2011-08-27","s":"s10","v":-0.240},{"d":"2011-09-02","s":"s10","v":-0.248},{"d":"2011-09-12","s":"s10","v":-0.262},{"d":"2011-09-19","s":"s10","v":-0.270},{"d":"2011-09-26","s":"s10","v":-0.276},{"d":"2011-10-03","s":"s10","v":-0.282},{"d":"2011-10-12","s":"s10","v":-0.288},{"d":"2011-10-31","s":"s10","v":-0.297},{"d":"2011-11-12","s":"s10","v":-0.302},
{"d":"2009-02-08","s":"s09","v":-0.005},{"d":"2009-11-07","s":"s09","v":-0.020},{"d":"2009-11-29","s":"s09","v":-0.025},{"d":"2009-12-14","s":"s09","v":-0.028},{"d":"2009-12-27","s":"s09","v":-0.030},{"d":"2010-01-12","s":"s09","v":-0.032},{"d":"2010-02-03","s":"s09","v":-0.035},{"d":"2010-02-16","s":"s09","v":-0.037},{"d":"2010-03-02","s":"s09","v":-0.038},{"d":"2010-03-21","s":"s09","v":-0.040},{"d":"2010-03-31","s":"s09","v":-0.041},{"d":"2010-04-12","s":"s09","v":-0.041},{"d":"2010-04-28","s":"s09","v":-0.042},{"d":"2010-05-15","s":"s09","v":-0.046},{"d":"2010-05-31","s":"s09","v":-0.050},{"d":"2010-06-14","s":"s09","v":-0.053},{"d":"2010-07-05","s":"s09","v":-0.058},{"d":"2010-07-14","s":"s09","v":-0.060},{"d":"2010-08-01","s":"s09","v":-0.063},{"d":"2010-08-14","s":"s09","v":-0.066},{"d":"2010-08-31","s":"s09","v":-0.068},{"d":"2010-09-14","s":"s09","v":-0.071},{"d":"2010-09-30","s":"s09","v":-0.074},{"d":"2010-10-13","s":"s09","v":-0.076},{"d":"2010-10-28","s":"s09","v":-0.078},{"d":"2010-11-13","s":"s09","v":-0.080},{"d":"2010-11-28","s":"s09","v":-0.080},{"d":"2010-12-12","s":"s09","v":-0.082},{"d":"2011-01-10","s":"s09","v":-0.083},{"d":"2011-01-30","s":"s09","v":-0.083},{"d":"2011-02-14","s":"s09","v":-0.084},{"d":"2011-02-28","s":"s09","v":-0.083},{"d":"2011-03-14","s":"s09","v":-0.086},{"d":"2011-03-30","s":"s09","v":-0.088},{"d":"2011-04-13","s":"s09","v":-0.090},{"d":"2011-04-29","s":"s09","v":-0.096},{"d":"2011-05-14","s":"s09","v":-0.103},{"d":"2011-05-30","s":"s09","v":-0.107},{"d":"2011-06-13","s":"s09","v":-0.110},{"d":"2011-06-28","s":"s09","v":-0.112},{"d":"2011-07-10","s":"s09","v":-0.120},{"d":"2011-07-30","s":"s09","v":-0.143},{"d":"2011-08-13","s":"s09","v":-0.160},{"d":"2011-08-20","s":"s09","v":-0.167},{"d":"2011-08-27","s":"s09","v":-0.172},{"d":"2011-09-02","s":"s09","v":-0.176},{"d":"2011-09-12","s":"s09","v":-0.179},{"d":"2011-09-19","s":"s09","v":-0.181},{"d":"2011-09-26","s":"s09","v":-0.183},{"d":"2011-10-03","s":"s09","v":-0.184},{"d":"2011-10-12","s":"s09","v":-0.186},{"d":"2011-10-31","s":"s09","v":-0.189},{"d":"2011-11-12","s":"s09","v":-0.196},
{"d":"2009-02-08","s":"s08","v":-0.017},{"d":"2009-11-07","s":"s08","v":-0.054},{"d":"2009-11-29","s":"s08","v":-0.063},{"d":"2009-12-14","s":"s08","v":-0.066},{"d":"2009-12-27","s":"s08","v":-0.071},{"d":"2010-01-12","s":"s08","v":-0.071},{"d":"2010-02-03","s":"s08","v":-0.079},{"d":"2010-02-16","s":"s08","v":-0.083},{"d":"2010-03-02","s":"s08","v":-0.086},{"d":"2010-03-21","s":"s08","v":-0.094},{"d":"2010-03-31","s":"s08","v":-0.092},{"d":"2010-04-12","s":"s08","v":-0.096},{"d":"2010-04-28","s":"s08","v":-0.103},{"d":"2010-05-15","s":"s08","v":-0.103},{"d":"2010-05-31","s":"s08","v":-0.106},{"d":"2010-06-14","s":"s08","v":-0.107},{"d":"2010-07-05","s":"s08","v":-0.110},{"d":"2010-07-14","s":"s08","v":-0.115},{"d":"2010-08-01","s":"s08","v":-0.117},{"d":"2010-08-14","s":"s08","v":-0.121},{"d":"2010-08-31","s":"s08","v":-0.124},{"d":"2010-09-14","s":"s08","v":-0.126},{"d":"2010-09-30","s":"s08","v":-0.128},{"d":"2010-10-13","s":"s08","v":-0.130},{"d":"2010-10-28","s":"s08","v":-0.131},{"d":"2010-11-13","s":"s08","v":-0.132},{"d":"2010-11-28","s":"s08","v":-0.124},{"d":"2010-12-12","s":"s08","v":-0.128},{"d":"2011-01-10","s":"s08","v":-0.134},{"d":"2011-01-30","s":"s08","v":-0.138},{"d":"2011-02-14","s":"s08","v":-0.140},{"d":"2011-02-28","s":"s08","v":-0.141},{"d":"2011-03-14","s":"s08","v":-0.142},{"d":"2011-03-30","s":"s08","v":-0.143},{"d":"2011-04-13","s":"s08","v":-0.145},{"d":"2011-04-29","s":"s08","v":-0.146},{"d":"2011-05-14","s":"s08","v":-0.149},{"d":"2011-05-30","s":"s08","v":-0.151},{"d":"2011-06-13","s":"s08","v":-0.154},{"d":"2011-06-28","s":"s08","v":-0.155},{"d":"2011-07-10","s":"s08","v":-0.158},{"d":"2011-07-30","s":"s08","v":-0.160},{"d":"2011-08-13","s":"s08","v":-0.170},{"d":"2011-08-20","s":"s08","v":-0.174},{"d":"2011-08-27","s":"s08","v":-0.177},{"d":"2011-09-02","s":"s08","v":-0.179},{"d":"2011-09-12","s":"s08","v":-0.180},{"d":"2011-09-19","s":"s08","v":-0.181},{"d":"2011-09-26","s":"s08","v":-0.182},{"d":"2011-10-03","s":"s08","v":-0.182},{"d":"2011-10-12","s":"s08","v":-0.183},{"d":"2011-10-31","s":"s08","v":-0.184},{"d":"2011-11-12","s":"s08","v":-0.188},
{"d":"2009-02-08","s":"s07","v":-0.003},{"d":"2009-11-07","s":"s07","v":-0.008},{"d":"2009-11-29","s":"s07","v":-0.008},{"d":"2009-12-14","s":"s07","v":-0.008},{"d":"2009-12-27","s":"s07","v":-0.007},{"d":"2010-01-12","s":"s07","v":-0.006},{"d":"2010-02-03","s":"s07","v":-0.006},{"d":"2010-02-16","s":"s07","v":-0.005},{"d":"2010-03-02","s":"s07","v":-0.005},{"d":"2010-03-21","s":"s07","v":-0.014},{"d":"2010-03-31","s":"s07","v":-0.014},{"d":"2010-04-12","s":"s07","v":-0.020},{"d":"2010-04-28","s":"s07","v":-0.030},{"d":"2010-05-15","s":"s07","v":-0.038},{"d":"2010-05-31","s":"s07","v":-0.044},{"d":"2010-06-14","s":"s07","v":-0.050},{"d":"2010-07-05","s":"s07","v":-0.060},{"d":"2010-07-14","s":"s07","v":-0.065},{"d":"2010-08-01","s":"s07","v":-0.071},{"d":"2010-08-14","s":"s07","v":-0.077},{"d":"2010-08-31","s":"s07","v":-0.085},{"d":"2010-09-14","s":"s07","v":-0.090},{"d":"2010-09-30","s":"s07","v":-0.094},{"d":"2010-10-13","s":"s07","v":-0.098},{"d":"2010-10-28","s":"s07","v":-0.104},{"d":"2010-11-13","s":"s07","v":-0.104},{"d":"2010-11-28","s":"s07","v":-0.107},{"d":"2010-12-12","s":"s07","v":-0.115},{"d":"2011-01-10","s":"s07","v":-0.121},{"d":"2011-01-30","s":"s07","v":-0.124},{"d":"2011-02-14","s":"s07","v":-0.125},{"d":"2011-02-28","s":"s07","v":-0.126},{"d":"2011-03-14","s":"s07","v":-0.129},{"d":"2011-03-30","s":"s07","v":-0.134},{"d":"2011-04-13","s":"s07","v":-0.136},{"d":"2011-04-29","s":"s07","v":-0.137},{"d":"2011-05-14","s":"s07","v":-0.140},{"d":"2011-05-30","s":"s07","v":-0.147},{"d":"2011-06-13","s":"s07","v":-0.152},{"d":"2011-06-28","s":"s07","v":-0.153},{"d":"2011-07-10","s":"s07","v":-0.160},{"d":"2011-07-30","s":"s07","v":-0.173},{"d":"2011-08-13","s":"s07","v":-0.207},{"d":"2011-08-20","s":"s07","v":-0.213},{"d":"2011-08-27","s":"s07","v":-0.220},{"d":"2011-09-02","s":"s07","v":-0.226},{"d":"2011-09-12","s":"s07","v":-0.233},{"d":"2011-09-19","s":"s07","v":-0.235},{"d":"2011-09-26","s":"s07","v":-0.237},{"d":"2011-10-03","s":"s07","v":-0.240},{"d":"2011-10-12","s":"s07","v":-0.243},{"d":"2011-10-31","s":"s07","v":-0.246},{"d":"2011-11-12","s":"s07","v":-0.247},
{"d":"2009-02-08","s":"s06","v":-0.002},{"d":"2009-11-07","s":"s06","v":-0.005},{"d":"2009-11-29","s":"s06","v":-0.010},{"d":"2009-12-14","s":"s06","v":-0.014},{"d":"2009-12-27","s":"s06","v":-0.021},{"d":"2010-01-12","s":"s06","v":-0.025},{"d":"2010-02-03","s":"s06","v":-0.034},{"d":"2010-02-16","s":"s06","v":-0.041},{"d":"2010-03-02","s":"s06","v":-0.044},{"d":"2010-03-21","s":"s06","v":-0.049},{"d":"2010-03-31","s":"s06","v":-0.050},{"d":"2010-04-12","s":"s06","v":-0.054},{"d":"2010-04-28","s":"s06","v":-0.064},{"d":"2010-05-15","s":"s06","v":-0.071},{"d":"2010-05-31","s":"s06","v":-0.076},{"d":"2010-06-14","s":"s06","v":-0.080},{"d":"2010-07-05","s":"s06","v":-0.086},{"d":"2010-07-14","s":"s06","v":-0.095},{"d":"2010-08-01","s":"s06","v":-0.100},{"d":"2010-08-14","s":"s06","v":-0.107},{"d":"2010-08-31","s":"s06","v":-0.113},{"d":"2010-09-14","s":"s06","v":-0.119},{"d":"2010-09-30","s":"s06","v":-0.121},{"d":"2010-10-13","s":"s06","v":-0.123},{"d":"2010-10-28","s":"s06","v":-0.129},{"d":"2010-11-13","s":"s06","v":-0.131},{"d":"2010-11-28","s":"s06","v":-0.134},{"d":"2010-12-12","s":"s06","v":-0.139},{"d":"2011-01-10","s":"s06","v":-0.142},{"d":"2011-01-30","s":"s06","v":-0.146},{"d":"2011-02-14","s":"s06","v":-0.150},{"d":"2011-02-28","s":"s06","v":-0.151},{"d":"2011-03-14","s":"s06","v":-0.153},{"d":"2011-03-30","s":"s06","v":-0.161},{"d":"2011-04-13","s":"s06","v":-0.166},{"d":"2011-04-29","s":"s06","v":-0.175},{"d":"2011-05-14","s":"s06","v":-0.186},{"d":"2011-05-30","s":"s06","v":-0.189},{"d":"2011-06-13","s":"s06","v":-0.201},{"d":"2011-06-28","s":"s06","v":-0.204},{"d":"2011-07-10","s":"s06","v":-0.210},{"d":"2011-07-30","s":"s06","v":-0.223},{"d":"2011-08-13","s":"s06","v":-0.259},{"d":"2011-08-20","s":"s06","v":-0.268},{"d":"2011-08-27","s":"s06","v":-0.276},{"d":"2011-09-02","s":"s06","v":-0.283},{"d":"2011-09-12","s":"s06","v":-0.284},{"d":"2011-09-19","s":"s06","v":-0.288},{"d":"2011-09-26","s":"s06","v":-0.293},{"d":"2011-10-03","s":"s06","v":-0.292},{"d":"2011-10-12","s":"s06","v":-0.294},{"d":"2011-10-31","s":"s06","v":-0.299},{"d":"2011-11-12","s":"s06","v":-0.308},
{"d":"2009-02-08","s":"s05","v":-0.003},{"d":"2009-11-07","s":"s05","v":-0.045},{"d":"2009-11-29","s":"s05","v":-0.058},{"d":"2009-12-14","s":"s05","v":-0.068},{"d":"2009-12-27","s":"s05","v":-0.078},{"d":"2010-01-12","s":"s05","v":-0.086},{"d":"2010-02-03","s":"s05","v":-0.092},{"d":"2010-02-16","s":"s05","v":-0.098},{"d":"2010-03-02","s":"s05","v":-0.103},{"d":"2010-03-21","s":"s05","v":-0.112},{"d":"2010-03-31","s":"s05","v":-0.115},{"d":"2010-04-12","s":"s05","v":-0.121},{"d":"2010-04-28","s":"s05","v":-0.130},{"d":"2010-05-15","s":"s05","v":-0.134},{"d":"2010-05-31","s":"s05","v":-0.143},{"d":"2010-06-14","s":"s05","v":-0.150},{"d":"2010-07-05","s":"s05","v":-0.157},{"d":"2010-07-14","s":"s05","v":-0.164},{"d":"2010-08-01","s":"s05","v":-0.170},{"d":"2010-08-14","s":"s05","v":-0.175},{"d":"2010-08-31","s":"s05","v":-0.181},{"d":"2010-09-14","s":"s05","v":-0.186},{"d":"2010-09-30","s":"s05","v":-0.190},{"d":"2010-10-13","s":"s05","v":-0.196},{"d":"2010-10-28","s":"s05","v":-0.197},{"d":"2010-11-13","s":"s05","v":-0.201},{"d":"2010-11-28","s":"s05","v":-0.204},{"d":"2010-12-12","s":"s05","v":-0.205},{"d":"2011-01-10","s":"s05","v":-0.212},{"d":"2011-01-30","s":"s05","v":-0.215},{"d":"2011-02-14","s":"s05","v":-0.218},{"d":"2011-02-28","s":"s05","v":-0.221},{"d":"2011-03-14","s":"s05","v":-0.223},{"d":"2011-03-30","s":"s05","v":-0.226},{"d":"2011-04-13","s":"s05","v":-0.229},{"d":"2011-04-29","s":"s05","v":-0.233},{"d":"2011-05-14","s":"s05","v":-0.236},{"d":"2011-05-30","s":"s05","v":-0.241},{"d":"2011-06-13","s":"s05","v":-0.246},{"d":"2011-06-28","s":"s05","v":-0.250},{"d":"2011-07-10","s":"s05","v":-0.258},{"d":"2011-07-30","s":"s05","v":-0.284},{"d":"2011-08-13","s":"s05","v":-0.359},{"d":"2011-08-20","s":"s05","v":-0.371},{"d":"2011-08-27","s":"s05","v":-0.382},{"d":"2011-09-02","s":"s05","v":-0.393},{"d":"2011-09-12","s":"s05","v":-0.400},{"d":"2011-09-19","s":"s05","v":-0.405},{"d":"2011-09-26","s":"s05","v":-0.411},{"d":"2011-10-03","s":"s05","v":-0.415},{"d":"2011-10-12","s":"s05","v":-0.418},{"d":"2011-10-31","s":"s05","v":-0.422},{"d":"2011-11-12","s":"s05","v":-0.425},
{"d":"2009-02-08","s":"s04","v":-0.004},{"d":"2009-11-07","s":"s04","v":-0.088},{"d":"2009-11-29","s":"s04","v":-0.100},{"d":"2009-12-14","s":"s04","v":-0.113},{"d":"2009-12-27","s":"s04","v":-0.123},{"d":"2010-01-12","s":"s04","v":-0.131},{"d":"2010-02-03","s":"s04","v":-0.143},{"d":"2010-02-16","s":"s04","v":-0.152},{"d":"2010-03-02","s":"s04","v":-0.162},{"d":"2010-03-21","s":"s04","v":-0.174},{"d":"2010-03-31","s":"s04","v":-0.178},{"d":"2010-04-12","s":"s04","v":-0.184},{"d":"2010-04-28","s":"s04","v":-0.193},{"d":"2010-05-15","s":"s04","v":-0.202},{"d":"2010-05-31","s":"s04","v":-0.209},{"d":"2010-06-14","s":"s04","v":-0.217},{"d":"2010-07-05","s":"s04","v":-0.226},{"d":"2010-07-14","s":"s04","v":-0.232},{"d":"2010-08-01","s":"s04","v":-0.240},{"d":"2010-08-14","s":"s04","v":-0.247},{"d":"2010-08-31","s":"s04","v":-0.253},{"d":"2010-09-14","s":"s04","v":-0.258},{"d":"2010-09-30","s":"s04","v":-0.262},{"d":"2010-10-13","s":"s04","v":-0.267},{"d":"2010-10-28","s":"s04","v":-0.270},{"d":"2010-11-13","s":"s04","v":-0.273},{"d":"2010-11-28","s":"s04","v":-0.274},{"d":"2010-12-12","s":"s04","v":-0.278},{"d":"2011-01-10","s":"s04","v":-0.284},{"d":"2011-01-30","s":"s04","v":-0.290},{"d":"2011-02-14","s":"s04","v":-0.294},{"d":"2011-02-28","s":"s04","v":-0.296},{"d":"2011-03-14","s":"s04","v":-0.299},{"d":"2011-03-30","s":"s04","v":-0.302},{"d":"2011-04-13","s":"s04","v":-0.305},{"d":"2011-04-29","s":"s04","v":-0.309},{"d":"2011-05-14","s":"s04","v":-0.313},{"d":"2011-05-30","s":"s04","v":-0.318},{"d":"2011-06-13","s":"s04","v":-0.322},{"d":"2011-06-28","s":"s04","v":-0.326},{"d":"2011-07-10","s":"s04","v":-0.333},{"d":"2011-07-30","s":"s04","v":-0.350},{"d":"2011-08-13","s":"s04","v":-0.412},{"d":"2011-08-20","s":"s04","v":-0.424},{"d":"2011-08-27","s":"s04","v":-0.432},{"d":"2011-09-02","s":"s04","v":-0.438},{"d":"2011-09-12","s":"s04","v":-0.443},{"d":"2011-09-19","s":"s04","v":-0.446},{"d":"2011-09-26","s":"s04","v":-0.449},{"d":"2011-10-03","s":"s04","v":-0.452},{"d":"2011-10-12","s":"s04","v":-0.455},{"d":"2011-10-31","s":"s04","v":-0.460},{"d":"2011-11-12","s":"s04","v":-0.465},
{"d":"2009-02-08","s":"s03","v":-0.003},{"d":"2009-11-07","s":"s03","v":-0.083},{"d":"2009-11-29","s":"s03","v":-0.096},{"d":"2009-12-14","s":"s03","v":-0.108},{"d":"2009-12-27","s":"s03","v":-0.118},{"d":"2010-01-12","s":"s03","v":-0.126},{"d":"2010-02-03","s":"s03","v":-0.138},{"d":"2010-02-16","s":"s03","v":-0.148},{"d":"2010-03-02","s":"s03","v":-0.158},{"d":"2010-03-21","s":"s03","v":-0.170},{"d":"2010-03-31","s":"s03","v":-0.174},{"d":"2010-04-12","s":"s03","v":-0.180},{"d":"2010-04-28","s":"s03","v":-0.188},{"d":"2010-05-15","s":"s03","v":-0.197},{"d":"2010-05-31","s":"s03","v":-0.204},{"d":"2010-06-14","s":"s03","v":-0.212},{"d":"2010-07-05","s":"s03","v":-0.222},{"d":"2010-07-14","s":"s03","v":-0.229},{"d":"2010-08-01","s":"s03","v":-0.236},{"d":"2010-08-14","s":"s03","v":-0.244},{"d":"2010-08-31","s":"s03","v":-0.250},{"d":"2010-09-14","s":"s03","v":-0.256},{"d":"2010-09-30","s":"s03","v":-0.259},{"d":"2010-10-13","s":"s03","v":-0.264},{"d":"2010-10-28","s":"s03","v":-0.267},{"d":"2010-11-13","s":"s03","v":-0.271},{"d":"2010-11-28","s":"s03","v":-0.272},{"d":"2010-12-12","s":"s03","v":-0.277},{"d":"2011-01-10","s":"s03","v":-0.282},{"d":"2011-01-30","s":"s03","v":-0.288},{"d":"2011-02-14","s":"s03","v":-0.293},{"d":"2011-02-28","s":"s03","v":-0.294},{"d":"2011-03-14","s":"s03","v":-0.297},{"d":"2011-03-30","s":"s03","v":-0.301},{"d":"2011-04-13","s":"s03","v":-0.303},{"d":"2011-04-29","s":"s03","v":-0.308},{"d":"2011-05-14","s":"s03","v":-0.312},{"d":"2011-05-30","s":"s03","v":-0.317},{"d":"2011-06-13","s":"s03","v":-0.321},{"d":"2011-06-28","s":"s03","v":-0.324},{"d":"2011-07-10","s":"s03","v":-0.331},{"d":"2011-07-30","s":"s03","v":-0.357},{"d":"2011-08-13","s":"s03","v":-0.428},{"d":"2011-08-20","s":"s03","v":-0.439},{"d":"2011-08-27","s":"s03","v":-0.445},{"d":"2011-09-02","s":"s03","v":-0.451},{"d":"2011-09-12","s":"s03","v":-0.460},{"d":"2011-09-19","s":"s03","v":-0.466},{"d":"2011-09-26","s":"s03","v":-0.469},{"d":"2011-10-03","s":"s03","v":-0.477},{"d":"2011-10-12","s":"s03","v":-0.482},{"d":"2011-10-31","s":"s03","v":-0.487},{"d":"2011-11-12","s":"s03","v":-0.491},
{"d":"2009-02-08","s":"s02","v":-0.006},{"d":"2009-11-07","s":"s02","v":-0.229},{"d":"2009-11-29","s":"s02","v":-0.249},{"d":"2009-12-14","s":"s02","v":-0.266},{"d":"2009-12-27","s":"s02","v":-0.277},{"d":"2010-01-12","s":"s02","v":-0.281},{"d":"2010-02-03","s":"s02","v":-0.297},{"d":"2010-02-16","s":"s02","v":-0.304},{"d":"2010-03-02","s":"s02","v":-0.309},{"d":"2010-03-21","s":"s02","v":-0.318},{"d":"2010-03-31","s":"s02","v":-0.318},{"d":"2010-04-12","s":"s02","v":-0.324},{"d":"2010-04-28","s":"s02","v":-0.337},{"d":"2010-05-15","s":"s02","v":-0.344},{"d":"2010-05-31","s":"s02","v":-0.350},{"d":"2010-06-14","s":"s02","v":-0.358},{"d":"2010-07-05","s":"s02","v":-0.366},{"d":"2010-07-14","s":"s02","v":-0.376},{"d":"2010-08-01","s":"s02","v":-0.383},{"d":"2010-08-14","s":"s02","v":-0.390},{"d":"2010-08-31","s":"s02","v":-0.398},{"d":"2010-09-14","s":"s02","v":-0.403},{"d":"2010-09-30","s":"s02","v":-0.408},{"d":"2010-10-13","s":"s02","v":-0.411},{"d":"2010-10-28","s":"s02","v":-0.417},{"d":"2010-11-13","s":"s02","v":-0.421},{"d":"2010-11-28","s":"s02","v":-0.420},{"d":"2010-12-12","s":"s02","v":-0.429},{"d":"2011-01-10","s":"s02","v":-0.435},{"d":"2011-01-30","s":"s02","v":-0.435},{"d":"2011-02-14","s":"s02","v":-0.441},{"d":"2011-02-28","s":"s02","v":-0.443},{"d":"2011-03-14","s":"s02","v":-0.445},{"d":"2011-03-30","s":"s02","v":-0.450},{"d":"2011-04-13","s":"s02","v":-0.457},{"d":"2011-04-29","s":"s02","v":-0.465},{"d":"2011-05-14","s":"s02","v":-0.474},{"d":"2011-05-30","s":"s02","v":-0.477},{"d":"2011-06-13","s":"s02","v":null},{"d":"2011-06-28","s":"s02","v":-0.489},{"d":"2011-07-10","s":"s02","v":-0.497},{"d":"2011-07-30","s":"s02","v":-0.511},{"d":"2011-08-13","s":"s02","v":-0.554},{"d":"2011-08-20","s":"s02","v":-0.560},{"d":"2011-08-27","s":"s02","v":-0.567},{"d":"2011-09-02","s":"s02","v":-0.574},{"d":"2011-09-12","s":"s02","v":-0.580},{"d":"2011-09-19","s":"s02","v":-0.582},{"d":"2011-09-26","s":"s02","v":-0.583},{"d":"2011-10-03","s":"s02","v":-0.586},{"d":"2011-10-12","s":"s02","v":-0.589},{"d":"2011-10-31","s":"s02","v":-0.594},{"d":"2011-11-12","s":"s02","v":-0.603},
{"d":"2009-02-08","s":"s01","v":-0.004},{"d":"2009-11-07","s":"s01","v":-0.325},{"d":"2009-11-29","s":"s01","v":-0.347},{"d":"2009-12-14","s":"s01","v":-0.365},{"d":"2009-12-27","s":"s01","v":-0.376},{"d":"2010-01-12","s":"s01","v":-0.386},{"d":"2010-02-03","s":"s01","v":-0.399},{"d":"2010-02-16","s":"s01","v":-0.410},{"d":"2010-03-02","s":"s01","v":-0.413},{"d":"2010-03-21","s":"s01","v":-0.422},{"d":"2010-03-31","s":"s01","v":-0.422},{"d":"2010-04-12","s":"s01","v":-0.429},{"d":"2010-04-28","s":"s01","v":-0.440},{"d":"2010-05-15","s":"s01","v":-0.448},{"d":"2010-05-31","s":"s01","v":-0.455},{"d":"2010-06-14","s":"s01","v":-0.461},{"d":"2010-07-05","s":"s01","v":-0.469},{"d":"2010-07-14","s":"s01","v":-0.479},{"d":"2010-08-01","s":"s01","v":-0.484},{"d":"2010-08-14","s":"s01","v":-0.492},{"d":"2010-08-31","s":"s01","v":-0.498},{"d":"2010-09-14","s":"s01","v":-0.502},{"d":"2010-09-30","s":"s01","v":-0.506},{"d":"2010-10-13","s":"s01","v":-0.509},{"d":"2010-10-28","s":"s01","v":-0.512},{"d":"2010-11-13","s":"s01","v":-0.515},{"d":"2010-11-28","s":"s01","v":-0.518},{"d":"2010-12-12","s":"s01","v":-0.524},{"d":"2011-01-10","s":"s01","v":-0.530},{"d":"2011-01-30","s":"s01","v":-0.533},{"d":"2011-02-14","s":"s01","v":-0.537},{"d":"2011-02-28","s":"s01","v":-0.539},{"d":"2011-03-14","s":"s01","v":-0.541},{"d":"2011-03-30","s":"s01","v":-0.546},{"d":"2011-04-13","s":"s01","v":-0.540},{"d":"2011-04-29","s":"s01","v":null},{"d":"2011-05-14","s":"s01","v":-0.545},{"d":"2011-05-30","s":"s01","v":-0.548},{"d":"2011-06-13","s":"s01","v":-0.555},{"d":"2011-06-28","s":"s01","v":-0.557},{"d":"2011-07-10","s":"s01","v":-0.564},{"d":"2011-07-30","s":"s01","v":-0.573},{"d":"2011-08-13","s":"s01","v":-0.603},{"d":"2011-08-20","s":"s01","v":-0.610},{"d":"2011-08-27","s":"s01","v":-0.618},{"d":"2011-09-02","s":"s01","v":-0.624},{"d":"2011-09-12","s":"s01","v":-0.622},{"d":"2011-09-19","s":"s01","v":-0.627},{"d":"2011-09-26","s":"s01","v":-0.625},{"d":"2011-10-03","s":"s01","v":-0.627},{"d":"2011-10-12","s":"s01","v":-0.630},{"d":"2011-10-31","s":"s01","v":-0.634},{"d":"2011-11-12","s":"s01","v":-0.641}
]},
"encoding": {
  "x": {"field": "d", "type": "temporal", "scale": {"type": "utc", "domain": [{"year": 2009, "month": 1, "date": 1, "utc": true}, {"year": 2011, "month": 11, "date": 28, "utc": true}]}, "axis": null},
  "y": {"field": "v", "type": "quantitative", "scale": {"domain": [-0.7, 0.01], "nice": false, "zero": false},
    "axis": {"values": [0, -0.1, -0.2, -0.3, -0.4, -0.5, -0.6, -0.7], "format": ".2f", "title": "Variation cumulée (m)",
      "grid": true, "gridColor": "#1a1a1a", "gridWidth": {"condition": {"test": "datum.value === 0", "value": 3}, "value": 1.4},
      "domainColor": "#000000", "domainWidth": 3, "tickColor": "#000000", "tickSize": 6, "tickWidth": 2,
      "labelFontSize": 12, "labelColor": "#404040", "labelPadding": 9,
      "titleFontSize": 16, "titleFontWeight": "normal", "titleColor": "#222222", "titlePadding": 11, "titleY": 335}}
},
"layer": [
  {
    "mark": {"type": "line", "invalid": "break-paths-filter-domains"},
    "encoding": {
      "x": {"field": "d", "type": "temporal", "scale": {"type": "utc", "domain": [{"year": 2009, "month": 1, "date": 1, "utc": true}, {"year": 2011, "month": 11, "date": 28, "utc": true}]},
        "axis": {"orient": "top", "title": null, "format": "%d/%m/%Y", "labelAngle": -45, "labelAlign": "left", "labelBaseline": "middle", "labelPadding": 13, "labelFlush": false, "labelOverlap": false, "labelBound": false, "ticks": false, "domain": false, "grid": false, "labelFontSize": 11.5, "labelColor": "#333333",
          "values": [{"year": 2009, "month": 1, "date": 1, "utc": true}, {"year": 2009, "month": 3, "date": 1, "utc": true}, {"year": 2009, "month": 5, "date": 1, "utc": true}, {"year": 2009, "month": 7, "date": 1, "utc": true}, {"year": 2009, "month": 9, "date": 1, "utc": true}, {"year": 2009, "month": 11, "date": 1, "utc": true}, {"year": 2010, "month": 1, "date": 1, "utc": true}, {"year": 2010, "month": 3, "date": 1, "utc": true}, {"year": 2010, "month": 5, "date": 1, "utc": true}, {"year": 2010, "month": 7, "date": 1, "utc": true}, {"year": 2010, "month": 9, "date": 1, "utc": true}, {"year": 2010, "month": 11, "date": 1, "utc": true}, {"year": 2011, "month": 1, "date": 1, "utc": true}, {"year": 2011, "month": 3, "date": 1, "utc": true}, {"year": 2011, "month": 5, "date": 1, "utc": true}, {"year": 2011, "month": 7, "date": 1, "utc": true}, {"year": 2011, "month": 9, "date": 1, "utc": true}, {"year": 2011, "month": 11, "date": 1, "utc": true}]}},
      "color": {"field": "s", "type": "nominal", "legend": null, "scale": {"domain": ["s01","s02","s03","s04","s05","s06","s07","s08","s09","s10","s11","s12","s13","s14","s15","s16","s17","s18","s19","s20","s21","s22","s23","s24","s25","s26"], "range": ["#FFFFFF","#993366","#0000FF","#99CCFF","#CC99FF","#000080","#008080","#FFFF00","#FFFF99","#FFCC99","#FF0000","#00FF00","#800080","#FF00FF","#0033CC","#3399FF","#CCCCFF","#00FFFF","#800000","#006600","#CCFFCC","#FFFF00","#FF9900","#E8E8E8","#333300","#FFFFFF"]}},
      "strokeWidth": {"field": "s", "type": "nominal", "legend": null, "scale": {"domain": ["s01","s02","s03","s04","s05","s06","s07","s08","s09","s10","s11","s12","s13","s14","s15","s16","s17","s18","s19","s20","s21","s22","s23","s24","s25","s26"], "range": [2,2,2,3,2,2,2,2,1.5,1.5,2,2,2,2,3,2,2,2,2,2,2,1.5,1.5,2,2,2]}}
    }
  },
  {
    "transform": [{"filter": {"field": "s", "oneOf": ["s01","s02","s04","s05","s06","s07","s08","s09","s12","s13","s14","s15","s16","s17","s21","s24"]}}],
    "mark": {"type": "point", "filled": true, "opacity": 1, "invalid": "filter"},
    "encoding": {
      "color": {"field": "s", "type": "nominal", "legend": null},
      "shape": {"field": "s", "type": "nominal", "legend": null, "scale": {"domain": ["s01","s02","s03","s04","s05","s06","s07","s08","s09","s10","s11","s12","s13","s14","s15","s16","s17","s18","s19","s20","s21","s22","s23","s24","s25","s26"], "range": ["circle","triangle-up","M-1,0L1,0","diamond","circle","square","circle","diamond","triangle-up","circle","M-1,0L1,0M0,-1L0,1","circle","circle","square","square","circle","diamond","M-1,0L1,0M0,-1L0,1M-0.7,-0.7L0.7,0.7M-0.7,0.7L0.7,-0.7","M-1,0L1,0M0,-1L0,1","M-1,0L1,0M0,-1L0,1M-0.7,-0.7L0.7,0.7M-0.7,0.7L0.7,-0.7","square","M-1,0L1,0M0,-1L0,1M-0.7,-0.7L0.7,0.7M-0.7,0.7L0.7,-0.7","M-0.8,-0.8L0.8,0.8M-0.8,0.8L0.8,-0.8","circle","circle","circle"]}},
      "size": {"field": "s", "type": "nominal", "legend": null, "scale": {"domain": ["s01","s02","s03","s04","s05","s06","s07","s08","s09","s10","s11","s12","s13","s14","s15","s16","s17","s18","s19","s20","s21","s22","s23","s24","s25","s26"], "range": [70,90,64,80,80,110,100,90,70,10,64,110,110,90,20,90,60,80,64,64,80,70,49,60,10,10]}}
    }
  },
  {
    "transform": [{"filter": {"field": "s", "oneOf": ["s03","s11","s18","s19","s20","s22","s23"]}}],
    "mark": {"type": "point", "filled": false, "strokeWidth": 1.8, "opacity": 1, "invalid": "filter"},
    "encoding": {
      "x": {"field": "d", "type": "temporal", "scale": {"type": "utc", "domain": [{"year": 2009, "month": 1, "date": 1, "utc": true}, {"year": 2011, "month": 11, "date": 28, "utc": true}]},
        "axis": {"orient": "bottom", "title": "Date de mesures", "labels": false, "ticks": false, "domain": false, "grid": false, "titleFontSize": 14, "titleFontWeight": "normal", "titleColor": "#222222", "titlePadding": 12, "titleX": 513}},
      "color": {"field": "s", "type": "nominal", "legend": null},
      "shape": {"field": "s", "type": "nominal", "legend": null},
      "size": {"field": "s", "type": "nominal", "legend": null}
    }
  }
],
"resolve": {"axis": {"x": "independent"}}
}
